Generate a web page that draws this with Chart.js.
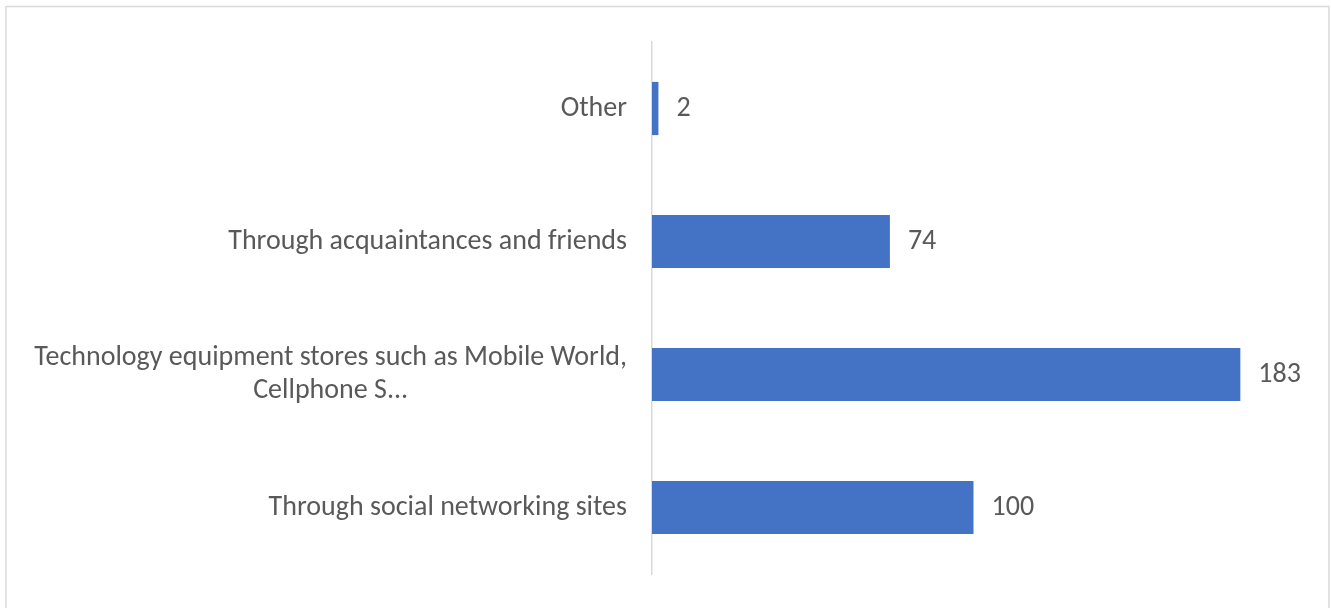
<!DOCTYPE html>
<html>
<head>
<meta charset="utf-8">
<script src="https://cdn.jsdelivr.net/npm/chart.js@4"></script>
<style>
  html, body { margin: 0; padding: 0; background: #fff; }
  #wrap { width: 1331px; height: 608px; }
</style>
</head>
<body>
<div id="wrap"><canvas id="myChart-sources"></canvas></div>
<script>
  const categories = [
    'Other',
    'Through acquaintances and friends',
    ['Technology equipment stores such as Mobile World,', 'Cellphone S...'],
    'Through social networking sites'
  ];
  const counts = [2, 74, 183, 100];
  const axisMin = 0;
  const axisMax = 200;

  const textColor = '#595959';
  const labelFont = '28px Carlito, Calibri, sans-serif';

  // light grey frame round the whole chart
  const frame = {
    id: 'frame',
    beforeDraw(chart) {
      const c = chart.ctx;
      c.save();
      c.strokeStyle = '#d9d9d9';
      c.lineWidth = 1.5;
      c.strokeRect(6, 6.5, 1323, 640);
      c.restore();
    }
  };

  // category names (centred per block, right against the axis) and value labels
  const labels = {
    id: 'labels',
    afterDatasetsDraw(chart) {
      const c = chart.ctx;
      const yScale = chart.scales.y;
      const left = chart.chartArea.left;
      c.save();
      c.font = labelFont;
      c.fillStyle = textColor;
      c.textBaseline = 'middle';

      categories.forEach((cat, i) => {
        const lines = Array.isArray(cat) ? cat : [cat];
        const y = yScale.getPixelForTick(i);
        const lh = 33;
        const w = Math.max(...lines.map(l => c.measureText(l).width));
        const cx = left - 25 - w / 2;
        c.textAlign = 'center';
        lines.forEach((l, j) => {
          c.fillText(l, cx, y + (j - (lines.length - 1) / 2) * lh);
        });
      });

      const meta = chart.getDatasetMeta(0);
      c.textAlign = 'left';
      meta.data.forEach((bar, i) => {
        c.fillText(String(counts[i]), bar.x + 18, bar.y);
      });
      c.restore();
    }
  };

  new Chart(document.getElementById('myChart-sources'), {
    type: 'bar',
    data: {
      labels: categories,
      datasets: [{
        data: counts,
        backgroundColor: '#4472c4',
        barPercentage: 0.4,
        categoryPercentage: 1.0
      }]
    },
    options: {
      indexAxis: 'y',
      responsive: true,
      maintainAspectRatio: false,
      animation: false,
      layout: {
        padding: { left: 652, right: 36, top: 42, bottom: 34 }
      },
      scales: {
        x: {
          display: false,
          min: axisMin,
          max: axisMax
        },
        y: {
          grid: { display: false },
          border: { display: true, color: '#d9d9d9', width: 1.5 },
          ticks: { display: false },
          afterFit(scale) { scale.width = 0; }
        }
      },
      plugins: {
        legend: { display: false },
        tooltip: { enabled: false }
      }
    },
    plugins: [frame, labels]
  });
</script>
</body>
</html>
